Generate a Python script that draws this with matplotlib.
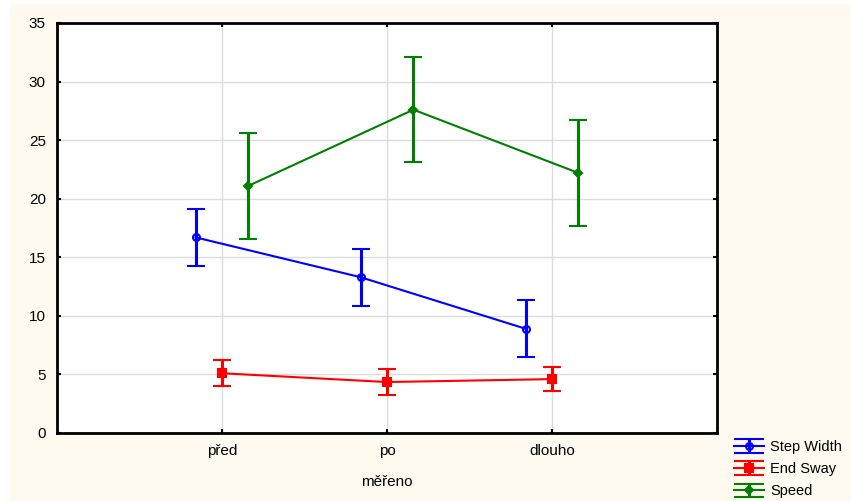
import matplotlib
matplotlib.use("Agg")
import matplotlib.pyplot as plt
from matplotlib.patches import Rectangle
from matplotlib.lines import Line2D
from matplotlib.legend_handler import HandlerErrorbar

plt.rcParams['font.family'] = ['Liberation Sans', 'DejaVu Sans']

categories = ["před", "po", "dlouho"]
series_names = ["Step Width", "End Sway", "Speed"]

step_width = [16.7, 13.3, 8.9]
step_width_err = [2.45, 2.45, 2.45]
end_sway = [5.1, 4.35, 4.6]
end_sway_err = [1.1, 1.1, 1.05]
speed = [21.1, 27.6, 22.2]
speed_err = [4.5, 4.5, 4.5]


class WideCaps(HandlerErrorbar):
    # legend caps as wide as the handle, like the original
    def create_artists(self, *args, **kw):
        arts = super().create_artists(*args, **kw)
        for a in arts:
            if isinstance(a, Line2D) and a.get_marker() == "_":
                a.set_markersize(21)
        return arts


fig = plt.figure(figsize=(8.51, 5.01), dpi=100)
fig.patch.set_facecolor("white")
fig.patches.append(Rectangle((10 / 851, 0), 1, 1 - 4 / 501, transform=fig.transFigure,
                             facecolor="#fffaf0", edgecolor="none", zorder=-10))

ax = fig.add_axes([57 / 851, 1 - 433 / 501, 660 / 851, 410 / 501])
ax.set_facecolor("white")

xs = [1, 2, 3]
styles = [
    (step_width, step_width_err, "#0000ff", "o", "none", -0.16, 5),
    (end_sway, end_sway_err, "#ff0000", "s", "#ff0000", 0.0, 5.5),
    (speed, speed_err, "#008000", "D", "#008000", 0.16, 4.5),
]

handles = []
for (vals, errs, col, mk, mfc, off, ms), name in zip(styles, series_names):
    h = ax.errorbar([x + off for x in xs], vals, yerr=errs, color=col, lw=1.5,
                    marker=mk, mfc=mfc, mec=col, mew=1.5, ms=ms,
                    elinewidth=2.2, capsize=6.8, capthick=2.2, label=name, zorder=3)
    handles.append(h)

ax.set_xlim(0, 4)
ax.set_ylim(0, 35)
ax.set_xticks(xs)
ax.set_xticklabels(categories)
ax.set_yticks(range(0, 36, 5))
ax.grid(True, color="#dcdcdc", lw=1)
ax.set_axisbelow(True)

for s in ax.spines.values():
    s.set_linewidth(2)
    s.set_color("black")
ax.tick_params(direction="in", length=3, width=1.5, top=True, right=True,
               labelsize=11, colors="black", pad=8)
ax.set_xlabel("měřeno", fontsize=11, labelpad=12)

fig.legend(handles=handles, loc="lower left", bbox_to_anchor=(728 / 851, -0.006),
           frameon=False, fontsize=10.5, handlelength=2.1, handletextpad=0.4,
           labelspacing=0.55, borderaxespad=0.0,
           handler_map={type(handles[0]): WideCaps(yerr_size=0.45)})

fig.savefig("out.png", dpi=100, facecolor=fig.get_facecolor())
